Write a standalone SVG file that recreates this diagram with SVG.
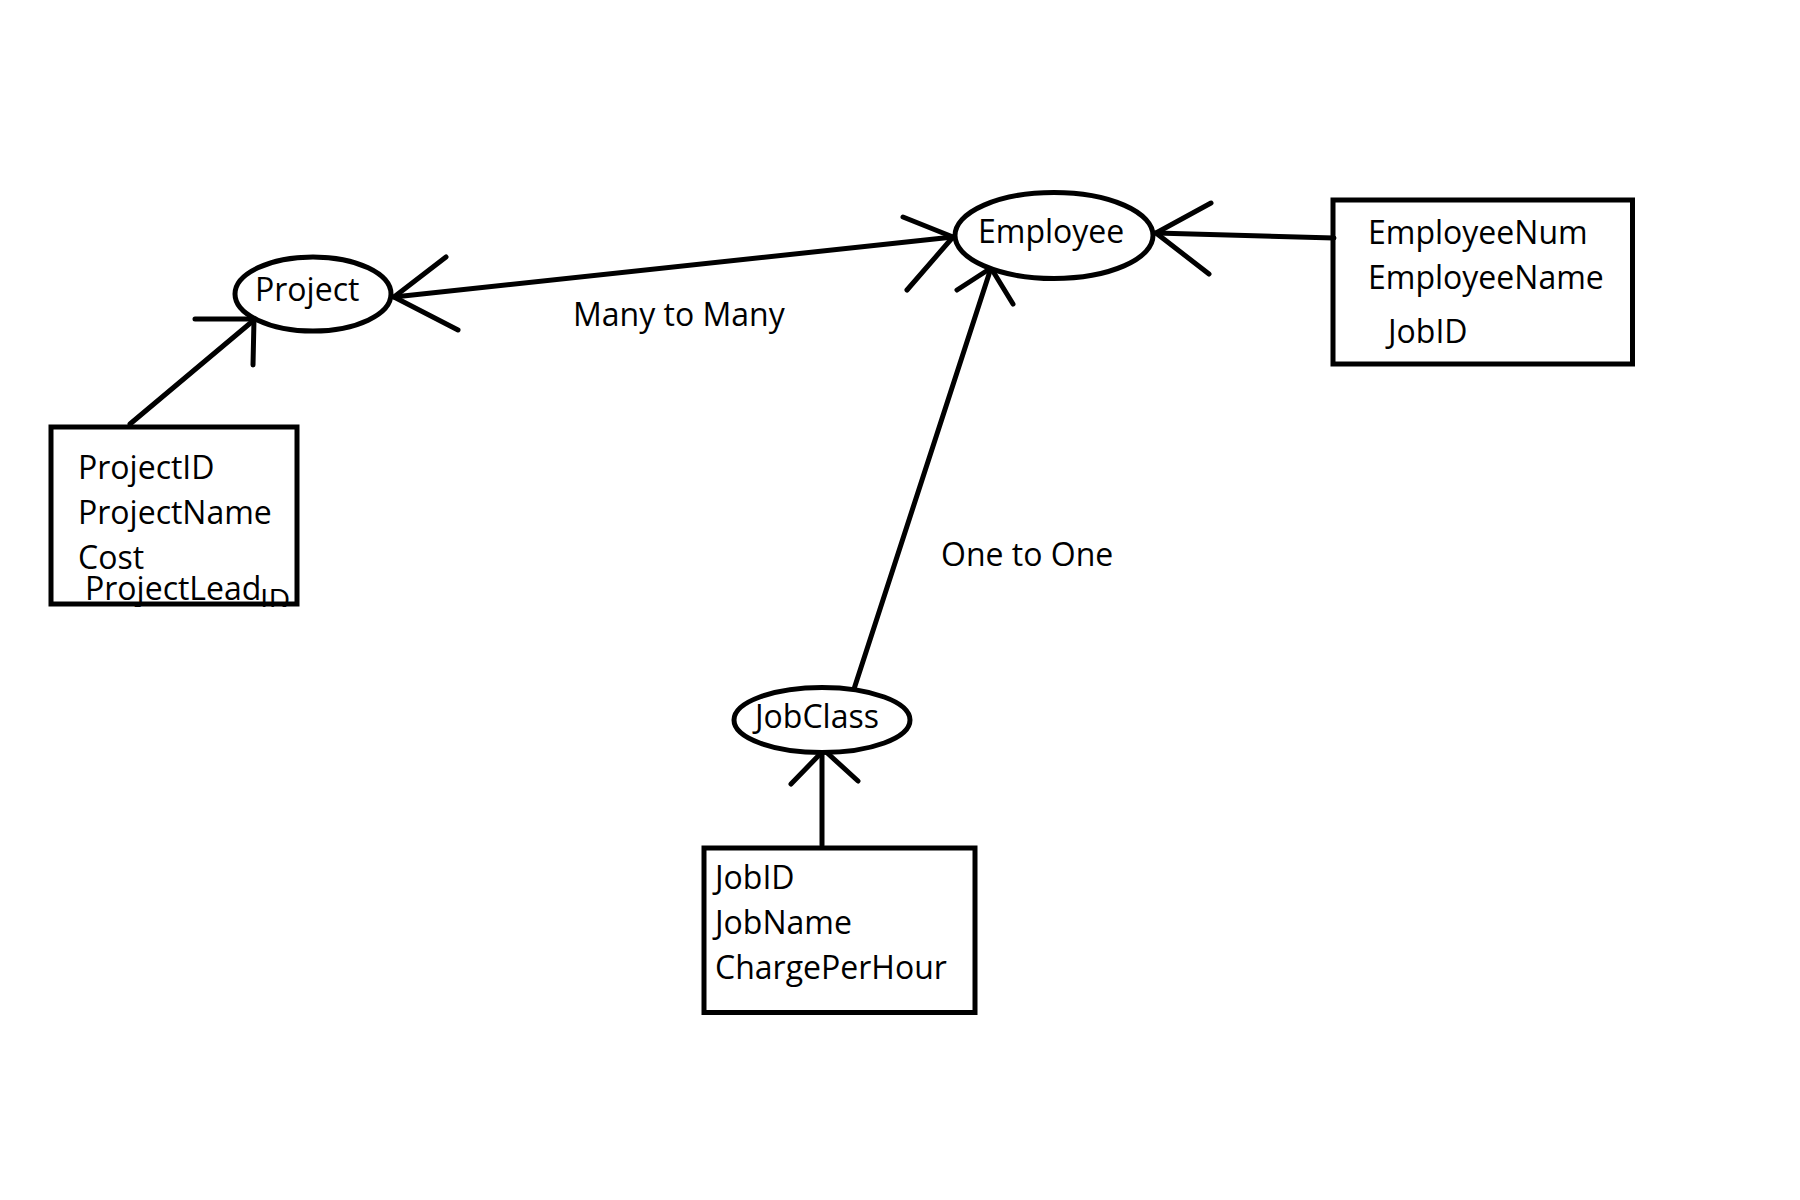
<svg xmlns="http://www.w3.org/2000/svg" width="1800" height="1200" viewBox="0 0 1800 1200">
<style>
.s{fill:none;stroke:#000;stroke-width:5;stroke-linecap:round;stroke-linejoin:round}
.e{fill:#fff;stroke:#000;stroke-width:5}
.b{fill:none;stroke:#000;stroke-width:5}
.t{font-family:"Open Sans","Noto Sans",sans-serif;font-size:32px;fill:#000}
</style>
<defs>
<clipPath id="clipP"><rect x="46" y="422" width="253" height="185"/></clipPath>
</defs>
<rect x="0" y="0" width="1800" height="1200" fill="#fff"/>
<g id="connectors">
<line class="s" x1="130" y1="424" x2="254" y2="320"/>
<polyline class="s" points="195,319 254,319 253,365"/>
<line class="s" x1="394" y1="297" x2="953" y2="237"/>
<polyline class="s" points="446,257 394,297 458,330"/>
<polyline class="s" points="903,217 953,237 907,290"/>
<line class="s" x1="1156" y1="233" x2="1334" y2="238"/>
<polyline class="s" points="1211,203 1156,233 1209,274"/>
<line class="s" x1="991" y1="268" x2="854" y2="689"/>
<polyline class="s" points="957,290 991,268 1013,304"/>
<line class="s" x1="822" y1="750" x2="822" y2="845"/>
<polyline class="s" points="791,784 824,750 858,781"/>
<text class="t" x="573" y="326">Many to Many</text>
<text class="t" x="941" y="566">One to One</text>
</g>
<g id="project">
<ellipse class="e" cx="313" cy="294" rx="78" ry="37"/>
<text class="t" x="255" y="301">Project</text>
</g>
<g id="employee">
<ellipse class="e" cx="1054" cy="235.5" rx="99" ry="43"/>
<text class="t" x="978" y="243">Employee</text>
</g>
<g id="jobclass">
<ellipse class="e" cx="822" cy="720" rx="88" ry="32.5"/>
<text class="t" x="755" y="728">JobClass</text>
</g>
<g id="project-attrs">
<g clip-path="url(#clipP)">
<text class="t" x="78" y="479">ProjectID</text>
<text class="t" x="78" y="524">ProjectName</text>
<text class="t" x="78" y="569">Cost</text>
<text class="t" x="85" y="600">ProjectLead</text>
<text class="t" x="260" y="610" style="font-size:30px">ID</text>
</g>
<rect class="b" x="51" y="427" width="246" height="177"/>
</g>
<g id="employee-attrs">
<rect class="b" x="1333" y="200" width="299.5" height="164"/>
<text class="t" x="1368" y="244">EmployeeNum</text>
<text class="t" x="1368" y="289">EmployeeName</text>
<text class="t" x="1388" y="343">JobID</text>
</g>
<g id="jobclass-attrs">
<rect class="b" x="704" y="848" width="271" height="164.5"/>
<text class="t" x="715" y="889">JobID</text>
<text class="t" x="715" y="934">JobName</text>
<text class="t" x="715" y="979">ChargePerHour</text>
</g>
</svg>
